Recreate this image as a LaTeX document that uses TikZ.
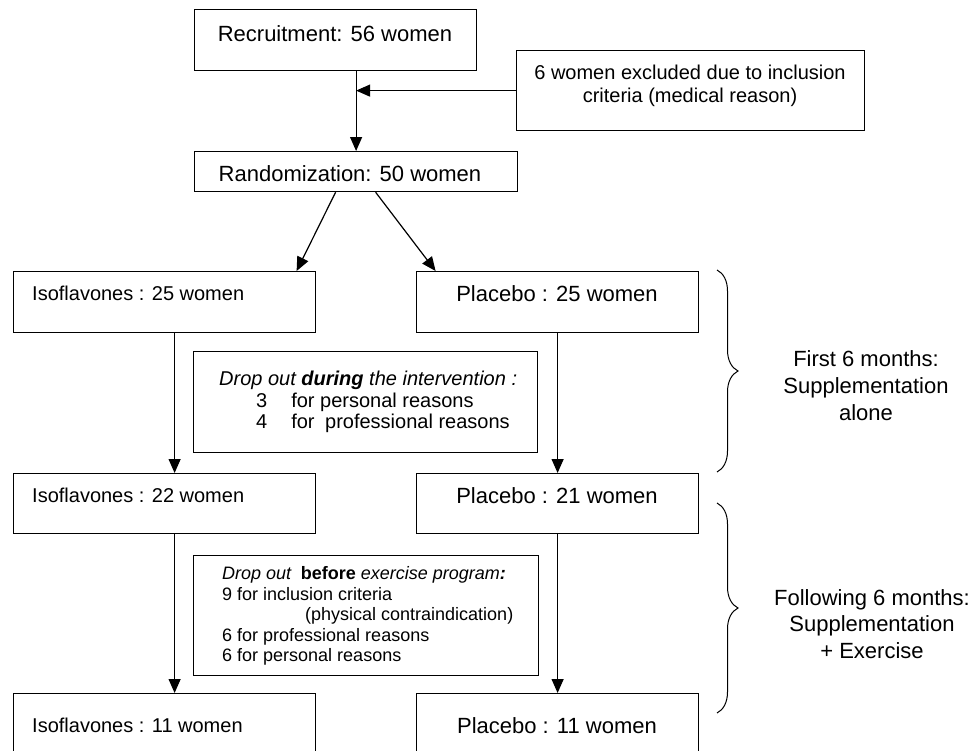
\documentclass[tikz,border=0pt]{standalone}
\usepackage{fontspec}
\setmainfont{Liberation Sans}
\usetikzlibrary{arrows.meta,decorations.pathreplacing}
\begin{document}
\begin{tikzpicture}[x=1pt,y=-1pt,
  box/.style={draw,line width=1.2pt,inner sep=0pt,anchor=north west},
  arr/.style={line width=1.2pt,-{Triangle[length=14pt,width=12pt]}},
  big/.style={inner sep=0pt,font=\fontsize{22}{27}\selectfont},
  mid/.style={inner sep=0pt,font=\fontsize{20}{23}\selectfont},
  sml/.style={inner sep=0pt,font=\fontsize{18}{20.5}\selectfont},
  brc/.style={line width=1pt,decorate,decoration={brace,amplitude=21pt}}]
\clip (0,0) rectangle (974,750);
\fill[white] (0,0) rectangle (974,750);

% boxes
\node[box,minimum width=282pt,minimum height=61pt] (rec) at (194,9) {};
\node[box,minimum width=348pt,minimum height=80pt] (excl) at (516,50) {};
\node[box,minimum width=323pt,minimum height=40pt] (rand) at (194,151) {};
\node[box,minimum width=302pt,minimum height=61pt] (iso1) at (13,271) {};
\node[box,minimum width=282pt,minimum height=61pt] (pla1) at (416,271) {};
\node[box,minimum width=344pt,minimum height=101pt] (drop1) at (193,351) {};
\node[box,minimum width=302pt,minimum height=60pt] (iso2) at (13,473) {};
\node[box,minimum width=282pt,minimum height=60pt] (pla2) at (416,473) {};
\node[box,minimum width=345pt,minimum height=120pt] (drop2) at (193,555) {};
\node[box,minimum width=302pt,minimum height=80pt] (iso3) at (13,693) {};
\node[box,minimum width=282pt,minimum height=80pt] (pla3) at (416,693) {};

% texts
\node[big,anchor=base] (trec) at (335,41) {Recruitment: 56 women};
\node[mid,anchor=north,align=center] (texcl) at (690,65)
  {6 women excluded due to inclusion\\criteria (medical reason)};
\node[big,anchor=base] (trand) at (350,181) {Randomization: 50 women};
\node[mid,anchor=base west] (tiso1) at (32,300) {Isoflavones : 25 women};
\node[big,anchor=base] (tpla1) at (557,301) {Placebo : 25 women};
\node[mid,anchor=north west,align=left,font=\fontsize{20}{21.5}\selectfont] (tdrop1) at (219,371)
  {\textit{Drop out \textbf{during} the intervention :}\\
   \hspace*{37pt}3\hspace*{24pt}for personal reasons\\
   \hspace*{37pt}4\hspace*{24pt}for\hspace{10.5pt}professional reasons};
\node[mid,anchor=base west] (tiso2) at (32,502) {Isoflavones : 22 women};
\node[big,anchor=base] (tpla2) at (557,503) {Placebo : 21 women};
\node[sml,anchor=north west,align=left] (tdrop2) at (222,566.5)
  {\textit{Drop out}\hspace{9pt}\textbf{before} \textit{exercise program\textbf{:}}\\
   9 for inclusion criteria\\
   \hspace*{83pt}(physical contraindication)\\
   6 for professional reasons\\
   6 for personal reasons};
\node[mid,anchor=base west] (tiso3) at (32,732) {Isoflavones : 11 women};
\node[big,anchor=base] (tpla3) at (557,733) {Placebo : 11 women};

\node[big,anchor=north,align=center] (tfirst) at (866,350)
  {First 6 months:\\Supplementation\\alone};
\node[big,anchor=north,align=center,font=\fontsize{22}{26.5}\selectfont] (tfollow) at (872,589)
  {Following 6 months:\\Supplementation\\+ Exercise};

% braces
\coordinate (b1t) at (717,270);
\coordinate (b1b) at (717,472);
\coordinate (b2t) at (717,503);
\coordinate (b2b) at (717,713);
\draw[brc] (b1t) -- (b1b);
\draw[brc] (b2t) -- (b2b);

% connectors
\draw[arr] (rec.south -| rand.north) -- (rand.north);
\draw[arr] (excl.west) -- (excl.west -| rand.north);
\draw[arr] ([xshift=-20.5pt]rand.south) -- ([xshift=132pt]iso1.north);
\draw[arr] ([xshift=19.5pt]rand.south) -- ([xshift=-122pt]pla1.north);
\draw[arr] ([xshift=10pt]iso1.south) -- ([xshift=10pt]iso2.north);
\draw[arr] (pla1.south) -- (pla2.north);
\draw[arr] ([xshift=10pt]iso2.south) -- ([xshift=10pt]iso3.north);
\draw[arr] (pla2.south) -- (pla3.north);
\end{tikzpicture}
\end{document}
